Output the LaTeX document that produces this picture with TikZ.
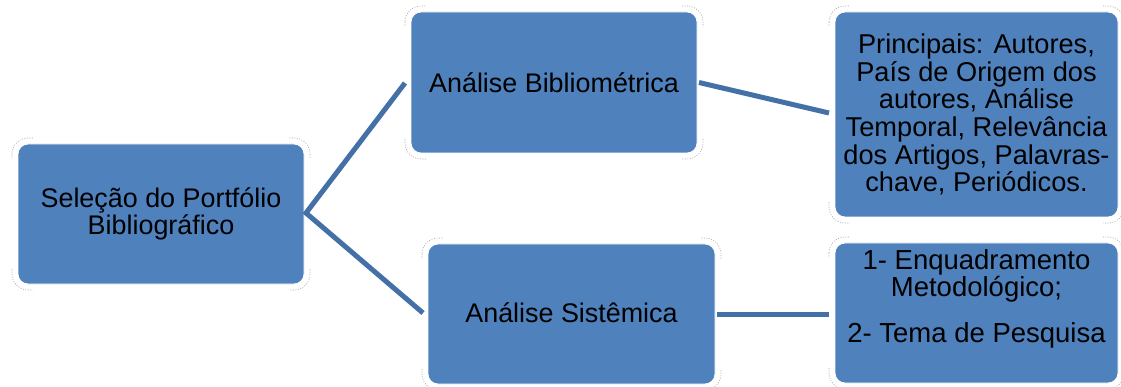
\documentclass[tikz,border=0pt]{standalone}
\usepackage{fontspec}
\setmainfont{Liberation Sans}
\usetikzlibrary{calc}
\definecolor{boxfill}{HTML}{4F81BD}
\definecolor{linkcol}{HTML}{4470A8}

% faint dashed arcs just outside the four corners of a box
\newcommand\boxcornermarks[1]{%
  \begin{scope}
    \clip ($(#1.north west)+(-9,-9)$) rectangle ++(24,24)
          ($(#1.north east)+(9,-9)$) rectangle ++(-24,24)
          ($(#1.south west)+(-9,9)$) rectangle ++(24,-24)
          ($(#1.south east)+(9,9)$) rectangle ++(-24,-24);
    \draw[cornermark] ($(#1.north west)+(-6,-6)$) rectangle ($(#1.south east)+(6,6)$);
  \end{scope}}

\begin{document}
\begin{tikzpicture}[x=1pt,y=-1pt,
  box/.style={draw=white, line width=0.8pt, fill=boxfill, rounded corners=10pt,
              inner sep=0pt, outer sep=0pt},
  boxtext/.style={align=center, text=black, inner sep=0pt,
                  font=\fontsize{26.9}{25.5}\selectfont},
  link/.style={draw=linkcol, line width=5pt, line join=miter},
  cornermark/.style={draw=gray!70, line width=0.6pt, dash pattern=on 1pt off 1.5pt,
                     rounded corners=16pt}]
\useasboundingbox (0,0) rectangle (1121,387);
\fill[white] (0,0) rectangle (1121,387);

% boxes
\node[box, minimum width=286pt, minimum height=140pt] (sel) at (161,214) {};
\node[box, minimum width=286pt, minimum height=141pt] (bib) at (554,82.5) {};
\node[box, minimum width=287pt, minimum height=140pt] (sys) at (571.5,314) {};
\node[box, minimum width=283pt, minimum height=205pt] (prin) at (976.5,114.5) {};
\node[box, minimum width=283pt, minimum height=140pt] (enq) at (976.5,313) {};

\foreach \b in {sel,bib,sys,prin,enq} {\boxcornermarks{\b}}

% texts
\node[boxtext] (selt) at (sel.center) {Seleção do Portfólio\\Bibliográfico};
\node[boxtext] (bibt) at (bib.center) {Análise Bibliométrica};
\node[boxtext] (syst) at ([yshift=1pt]sys.center) {Análise Sistêmica};
\node[boxtext, font=\fontsize{27.2}{27.7}\selectfont] (print) at ([yshift=0pt]prin.center)
  {Principais: Autores,\\País de Origem dos\\autores, Análise\\Temporal, Relevância\\dos Artigos, Palavras-\\chave, Periódicos.};
\node[boxtext, font=\fontsize{27.5}{25.5}\selectfont] (enqt) at ([yshift=14pt]enq.center)
  {1- Enquadramento\\Metodológico;\\[20pt]2- Tema de Pesquisa};

% connectors
\draw[link] ($(bib.west)+(-6,0.5)$) -- ($(sel.east)+(2,-1)$) -- ($(sys.west)+(-5,-1)$);
\draw[link] ($(bib.east)+(2,0)$) -- ($(prin.west)+(-6,-1.5)$);
\draw[link] ($(sys.east)+(2,0)$) -- ($(sys.east -| enq.west)+(-6,0)$);
\end{tikzpicture}
\end{document}
